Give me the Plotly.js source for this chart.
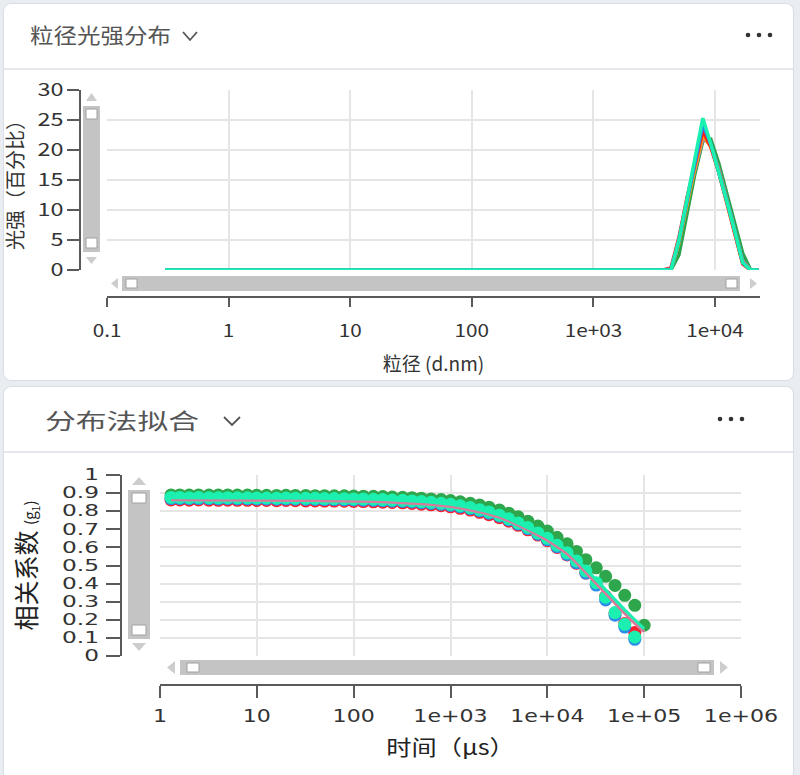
<!DOCTYPE html>
<html><head><meta charset="utf-8">
<script src="https://cdn.plot.ly/plotly-3.0.1.min.js"></script>
<style>
html,body{margin:0;padding:0;width:800px;height:775px;overflow:hidden;background:#e9edf2;font-family:"Noto Sans CJK SC","Noto Sans",sans-serif;}
.card{position:absolute;left:3px;width:791px;background:#fff;border:1px solid #d8dee5;border-radius:8px;box-sizing:border-box;}
#c1{top:3px;height:378px;}
#c2{top:386px;height:395px;}
.hdr{position:absolute;left:0;right:0;top:0;height:64px;border-bottom:2px solid #e4e8ed;}
.ttl{position:absolute;color:#555;white-space:nowrap;transform-origin:0 50%;}
.chev{position:absolute;}
.dots{position:absolute;}
#plot{position:absolute;left:0;top:0;width:800px;height:775px;}
</style></head>
<body>
<div class="card" id="c1"><div class="hdr">
  <div class="ttl" style="left:26px;top:15px;font-size:21px;transform:scaleX(1.12);">粒径光强分布</div>
  <svg class="chev" style="left:176px;top:25px" width="22" height="14"><polyline points="3,3 10,11 17,3" fill="none" stroke="#555" stroke-width="1.8"/></svg>
  <svg class="dots" style="left:738px;top:26px" width="40" height="10"><circle cx="6" cy="5" r="2.3" fill="#333"/><circle cx="17" cy="5" r="2.3" fill="#333"/><circle cx="28" cy="5" r="2.3" fill="#333"/></svg>
</div></div>
<div class="card" id="c2"><div class="hdr">
  <div class="ttl" style="left:41px;top:16px;font-size:22px;transform:scaleX(1.4);">分布法拟合</div>
  <svg class="chev" style="left:217px;top:27px" width="26" height="14"><polyline points="3,3 11,11 19,3" fill="none" stroke="#555" stroke-width="1.8"/></svg>
  <svg class="dots" style="left:710px;top:27px" width="40" height="10"><circle cx="6" cy="5" r="2.3" fill="#333"/><circle cx="17" cy="5" r="2.3" fill="#333"/><circle cx="28" cy="5" r="2.3" fill="#333"/></svg>
</div></div>
<div id="plot"></div>
<script>
// ---- Chart 1: particle size intensity distribution ----
const sizeNm = [0.3, 3730, 4340, 5050, 5870, 6830, 7940, 9240, 10740, 12500, 14530, 16900, 19660, 22860];
const intGreen  = [0, 0, 0,   2.5, 9,    16,   21.5, 21.8, 17.8, 12.8, 7.8, 2.8, 0, 0];
const intPink   = [0, 0, 0.4, 5.5, 11.5, 17,   22,   20.8, 16.8, 11.8, 6.8, 1.5, 0, 0];
const intOrange = [0, 0, 0,   4.5, 11,   17,   22.6, 20.5, 16.3, 11.3, 6.3, 1.0, 0, 0];
const intRed    = [0, 0, 0.2, 5.2, 12,   17.8, 23.2, 20.5, 16.3, 11.3, 6.3, 1.0, 0, 0];
const intBlue   = [0, 0, 0,   4.8, 11.5, 18,   24.3, 21,   16.5, 11.5, 6.5, 1.2, 0, 0];
const intCyan   = [0, 0, 0,   5,   12,   18.5, 25.3, 21,   16.5, 11.5, 6.5, 1.2, 0, 0];
const sizeTickVals = [0.1, 1, 10, 100, 1000, 10000];
const sizeTickText = ['0.1', '1', '10', '100', '1e+03', '1e+04'];

// ---- Chart 2: correlation function fit ----
const tauUs = [1.3, 1.6, 2, 2.5, 3.2, 4, 5, 6.3, 8, 10,
  12.6, 16, 20, 25, 32, 40, 50, 63, 80, 100,
  126, 160, 200, 250, 320, 400, 500, 630, 800, 1000,
  1260, 1600, 2000, 2500, 3200, 4000, 5000, 6300, 8000, 10000,
  12600, 16000, 20000, 25000, 32000, 40000, 50000, 63000, 80000, 100000];
const g1Red = [0.862, 0.862, 0.861, 0.862, 0.861, 0.860, 0.861, 0.860, 0.860, 0.859,
  0.859, 0.858, 0.859, 0.858, 0.857, 0.857, 0.856, 0.856, 0.855, 0.854,
  0.853, 0.852, 0.850, 0.848, 0.846, 0.843, 0.839, 0.835, 0.830, 0.824,
  0.816, 0.806, 0.794, 0.781, 0.764, 0.745, 0.722, 0.697, 0.668, 0.637,
  0.600, 0.558, 0.512, 0.458, 0.395, 0.330, 0.238, 0.180, 0.130, null];
const g1Blue = [0.870, 0.870, 0.869, 0.870, 0.869, 0.868, 0.869, 0.868, 0.868, 0.867,
  0.867, 0.866, 0.867, 0.866, 0.865, 0.865, 0.864, 0.864, 0.863, 0.862,
  0.861, 0.860, 0.858, 0.856, 0.854, 0.851, 0.847, 0.843, 0.838, 0.832,
  0.824, 0.814, 0.802, 0.789, 0.772, 0.752, 0.729, 0.703, 0.673, 0.642,
  0.604, 0.561, 0.515, 0.458, 0.392, 0.310, 0.225, 0.160, 0.092, null];
const g1Green = [0.890, 0.890, 0.889, 0.890, 0.889, 0.889, 0.890, 0.889, 0.889, 0.888,
  0.888, 0.887, 0.888, 0.887, 0.887, 0.886, 0.886, 0.885, 0.885, 0.884,
  0.883, 0.882, 0.881, 0.879, 0.877, 0.875, 0.872, 0.868, 0.864, 0.859,
  0.852, 0.844, 0.834, 0.822, 0.807, 0.789, 0.769, 0.745, 0.718, 0.690,
  0.656, 0.620, 0.578, 0.532, 0.487, 0.440, 0.390, 0.335, 0.280, 0.170];
const g1Cyan = [0.876, 0.876, 0.875, 0.876, 0.875, 0.874, 0.875, 0.874, 0.874, 0.873,
  0.873, 0.872, 0.873, 0.872, 0.871, 0.871, 0.870, 0.870, 0.869, 0.868,
  0.867, 0.866, 0.864, 0.862, 0.860, 0.857, 0.853, 0.849, 0.844, 0.838,
  0.830, 0.820, 0.808, 0.795, 0.778, 0.758, 0.735, 0.710, 0.680, 0.650,
  0.612, 0.570, 0.525, 0.470, 0.405, 0.325, 0.240, 0.175, 0.105, null];
const fitPink = [0.863, 0.863, 0.863, 0.863, 0.863, 0.863, 0.862, 0.862, 0.862, 0.861,
  0.861, 0.860, 0.860, 0.860, 0.859, 0.859, 0.858, 0.858, 0.857, 0.856,
  0.855, 0.854, 0.852, 0.850, 0.848, 0.845, 0.841, 0.837, 0.832, 0.826,
  0.818, 0.808, 0.796, 0.783, 0.766, 0.746, 0.723, 0.697, 0.668, 0.640,
  0.605, 0.565, 0.515, 0.460, 0.402, 0.345, 0.290, 0.235, 0.180, 0.135];
const fitCyan = [0.875, 0.875, 0.875, 0.875, 0.875, 0.875, 0.874, 0.874, 0.874, 0.873,
  0.873, 0.872, 0.872, 0.872, 0.871, 0.871, 0.870, 0.870, 0.869, 0.868,
  0.867, 0.866, 0.864, 0.862, 0.860, 0.857, 0.853, 0.849, 0.844, 0.838,
  0.830, 0.820, 0.808, 0.795, 0.778, 0.758, 0.735, 0.710, 0.682, 0.655,
  0.622, 0.583, 0.535, 0.480, 0.422, 0.365, 0.310, 0.255, 0.200, 0.150];
const tauTickVals = [1, 10, 100, 1000, 10000, 100000, 1000000];
const tauTickText = ['1', '10', '100', '1e+03', '1e+04', '1e+05', '1e+06'];

const W = 800, H = 775;
const px = x => x / W, py = y => 1 - y / H;
const CJK = '"Noto Sans CJK SC", "Noto Sans", sans-serif';
const WIDE = '"DejaVu Sans", Verdana, sans-serif';

function line(x, y, color) {
  return {x, y, type: 'scatter', mode: 'lines', xaxis: 'x', yaxis: 'y',
    line: {color, width: 3.5}, hoverinfo: 'skip'};
}
function pts(x, y, color) {
  return {x, y, type: 'scatter', mode: 'markers', xaxis: 'x2', yaxis: 'y2',
    marker: {color, size: 13}, hoverinfo: 'skip'};
}
function fit(x, y, color) {
  return {x, y, type: 'scatter', mode: 'lines', xaxis: 'x2', yaxis: 'y2',
    line: {color, width: 3}, hoverinfo: 'skip'};
}

const traces = [
  line(sizeNm, intGreen, '#2aa44c'),
  line(sizeNm, intPink, '#d9799c'),
  line(sizeNm, intOrange, '#ffa200'),
  line(sizeNm, intRed, '#ff1a1a'),
  line(sizeNm, intBlue, '#1f8ef0'),
  line(sizeNm, intCyan, '#1af0b0'),
  pts(tauUs, g1Red, '#ff1f2a'),
  pts(tauUs, g1Blue, '#2a8de8'),
  pts(tauUs, g1Green, '#2ea64c'),
  pts(tauUs, g1Cyan, '#1cf0b0'),
  fit(tauUs, fitPink, '#d9799c'),
  fit(tauUs, fitCyan, '#1cf0b0')
];

// decorative zoom sliders (styling only)
const SL = '#c4c4c4', AR = '#cdcdcd';
const shapes = [];
function rect(x0, y0, x1, y1, fill, lc) {
  shapes.push({type: 'rect', xref: 'paper', yref: 'paper', x0: px(x0), x1: px(x1), y0: py(y1), y1: py(y0),
    fillcolor: fill, line: {color: lc || fill, width: lc ? 1 : 0}, layer: 'above'});
}
function tri(pts) {
  const d = 'M ' + pts.map(p => px(p[0]) + ',' + py(p[1])).join(' L ') + ' Z';
  shapes.push({type: 'path', xref: 'paper', yref: 'paper', path: d, fillcolor: AR, line: {width: 0}, layer: 'above'});
}
// chart 1 vertical
rect(83, 106, 100, 252, SL);
rect(86, 109, 97, 119, '#fff', '#a0a0a0');
rect(86, 238, 97, 248, '#fff', '#a0a0a0');
tri([[91.5, 93], [86, 101], [97, 101]]);
tri([[86, 257], [97, 257], [91.5, 264]]);
// chart 1 horizontal
rect(122, 276, 740, 291, SL);
rect(126, 279, 137, 288, '#fff', '#a0a0a0');
rect(726, 279, 737, 288, '#fff', '#a0a0a0');
tri([[111, 283.5], [118, 278], [118, 289]]);
tri([[750, 278], [750, 289], [757, 283.5]]);
// chart 2 vertical
rect(128, 490, 150, 639, SL);
rect(132, 493, 146, 503, '#fff', '#a0a0a0');
rect(132, 625, 146, 635, '#fff', '#a0a0a0');
tri([[139, 477], [132, 485], [146, 485]]);
tri([[132, 643], [146, 643], [139, 651]]);
// chart 2 horizontal
rect(180, 660, 714, 675, SL);
rect(187, 663, 199, 672, '#fff', '#a0a0a0');
rect(698, 663, 710, 672, '#fff', '#a0a0a0');
tri([[167, 667.5], [175, 661], [175, 674]]);
tri([[720, 661], [720, 674], [728, 667.5]]);

const axCommon = {showline: true, linecolor: '#5a5a5a', linewidth: 2, ticks: 'outside', tickcolor: '#5a5a5a',
  tickwidth: 2, showgrid: true, gridcolor: '#e5e5e5', gridwidth: 2, zeroline: false, fixedrange: true};

const layout = {
  width: W, height: H, margin: {l: 0, r: 0, t: 0, b: 0},
  paper_bgcolor: 'rgba(0,0,0,0)', plot_bgcolor: 'rgba(0,0,0,0)', showlegend: false,
  font: {family: CJK, color: '#333'},
  xaxis: Object.assign({}, axCommon, {type: 'log', domain: [px(107), px(760)], range: [-1, 4.37],
    anchor: 'free', position: py(297), ticklen: 9, ticklabelstandoff: 8, tickvals: sizeTickVals, ticktext: sizeTickText,
    tickfont: {family: CJK, size: 18, color: '#333'},
    title: {text: '粒径 (d.nm)', font: {family: CJK, size: 19, color: '#333'}, standoff: 16}}),
  yaxis: Object.assign({}, axCommon, {domain: [py(270), py(90)], range: [0, 30], dtick: 5,
    anchor: 'free', position: px(80), ticklen: 12,
    tickfont: {family: CJK, size: 18, color: '#333'},
    title: {text: '光强（百分比）', font: {family: CJK, size: 20, color: '#333'}, standoff: 14}}),
  xaxis2: Object.assign({}, axCommon, {type: 'log', domain: [px(160), px(741)], range: [0, 6],
    anchor: 'free', position: py(685), ticklen: 12, ticklabelstandoff: 4, tickvals: tauTickVals, ticktext: tauTickText,
    tickfont: {family: WIDE, size: 17, color: '#333'},
    title: {text: '时间（μs）', font: {family: CJK, size: 21, color: '#222'}, standoff: 14}}),
  yaxis2: Object.assign({}, axCommon, {domain: [py(656), py(475)], range: [0, 1], dtick: 0.1,
    anchor: 'free', position: px(121), ticklen: 14, ticklabelstandoff: 4,
    tickfont: {family: WIDE, size: 15, color: '#333'},
    title: {text: '相关系数 <span style="font-size:15px">(g<sub>1</sub>)</span>', font: {family: CJK, size: 25, color: '#222'}, standoff: 30}}),
  shapes
};

function stretch(sel, factor) {
  document.querySelectorAll(sel).forEach(t => {
    const w = t.getComputedTextLength();
    if (w > 0) { t.setAttribute('textLength', (w * factor).toFixed(1)); t.setAttribute('lengthAdjust', 'spacingAndGlyphs'); }
  });
}

Plotly.newPlot('plot', traces, layout, {staticPlot: true, displayModeBar: false}).then(() => {
  stretch('.xaxislayer-above .xtick text', 1.15);
  stretch('.yaxislayer-above .ytick text', 1.3);
  stretch('.xaxislayer-above .x2tick text', 1.3);
  stretch('.yaxislayer-above .y2tick text', 1.55);
  stretch('.g-x2title text', 1.2);
});
</script>
</body></html>
